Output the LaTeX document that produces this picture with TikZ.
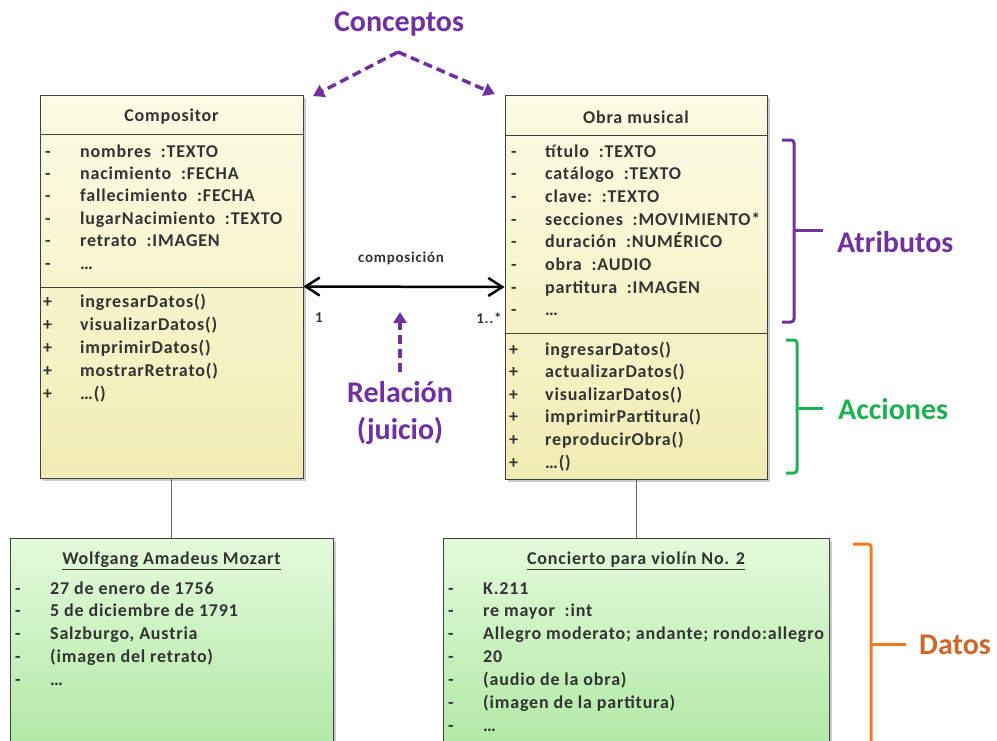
\documentclass[tikz,border=0pt]{standalone}
\usepackage{fontspec}
\setmainfont{Carlito}
\usetikzlibrary{arrows.meta,shadows}
\definecolor{txt}{HTML}{333333}
\definecolor{purp}{HTML}{7030A0}
\definecolor{grn}{HTML}{1FAF55}
\definecolor{orng}{HTML}{F27A22}
\definecolor{orngt}{HTML}{CF6728}
\definecolor{ytop}{HTML}{FDFCE6}
\definecolor{ybot}{HTML}{F1ECB4}
\definecolor{gtop}{HTML}{E4FADC}
\definecolor{gbot}{HTML}{ABE79F}
\newcommand{\itemfont}{\fontsize{18}{20}\selectfont\bfseries\addfontfeatures{LetterSpace=4.5}}
\tikzset{
  umlbox/.style={draw=black!75, line width=0.8pt, rectangle, inner sep=0pt,
    drop shadow={shadow xshift=3pt, shadow yshift=-3pt, fill=black!35, opacity=0.6}},
  classbox/.style={umlbox, top color=ytop, bottom color=ybot},
  objbox/.style={umlbox, top color=gtop, bottom color=gbot},
  item/.style={anchor=base west, inner sep=0pt, text=txt, font=\itemfont},
  ttl/.style={inner sep=0pt, text=txt, font=\itemfont},
  small/.style={inner sep=0pt, text=txt, font=\fontsize{15}{17}\selectfont\bfseries\addfontfeatures{LetterSpace=5}},
  big/.style={inner sep=0pt, font=\fontsize{30}{37}\selectfont\bfseries, align=center},
  sep/.style={draw=black!75, line width=0.8pt},
  conn/.style={draw=black!60, line width=0.8pt},
  dasharrow/.style={draw=purp, line width=3.5pt, dash pattern=on 9pt off 5pt,
    -{Triangle[length=11pt,width=13pt]}},
  bracket/.style={line width=3pt, rounded corners=3pt},
}
\begin{document}
\begin{tikzpicture}[x=1pt,y=-1pt]
\useasboundingbox (0,0) rectangle (997,740);
% class boxes
\node[classbox, minimum width=263pt, minimum height=383pt] (comp) at (171.5,286.5) {};
\node[classbox, minimum width=262pt, minimum height=384pt] (obra) at (636,287) {};
\draw[sep] (40,134) -- (303,134);
\draw[sep] (40,287) -- (303,287);
\draw[sep] (505,135) -- (767,135);
\draw[sep] (505,333) -- (767,333);
\node[ttl] (compt) at (171.5,117) {Compositor};
\node[ttl] (obrat) at (636,117) {Obra musical};
% Compositor attributes
\foreach \t [count=\i] in {nombres\ \ :TEXTO, nacimiento\ \ :FECHA, fallecimiento\ \ :FECHA, lugarNacimiento\ \ :TEXTO, retrato\ \ :IMAGEN, \dots}{
  \node[item] (cam\i) at (45,{157+22.4*(\i-1)}) {-};
  \node[item] (ca\i) at (80,{157+22.4*(\i-1)}) {\t};
}
\foreach \t [count=\i] in {ingresarDatos(), visualizarDatos(), imprimirDatos(), mostrarRetrato(), \dots()}{
  \node[item] (cop\i) at (43,{307+23*(\i-1)}) {+};
  \node[item] (co\i) at (80,{307+23*(\i-1)}) {\t};
}
% Obra attributes
\foreach \t [count=\i] in {título\ \ :TEXTO, catálogo\ \ :TEXTO, clave:\ \ :TEXTO, secciones\ \ :MOVIMIENTO*, duración\ \ :NUMÉRICO, obra\ \ :AUDIO, partitura\ \ :IMAGEN, \dots}{
  \node[item] (oam\i) at (511,{157+22.7*(\i-1)}) {-};
  \node[item] (oa\i) at (545,{157+22.7*(\i-1)}) {\t};
}
\foreach \t [count=\i] in {ingresarDatos(), actualizarDatos(), visualizarDatos(), imprimirPartitura(), reproducirObra(), \dots()}{
  \node[item] (oop\i) at (509,{355+22.6*(\i-1)}) {+};
  \node[item] (oo\i) at (545,{355+22.6*(\i-1)}) {\t};
}
% association
\draw[line width=2.5pt, {Straight Barb[length=14pt,width=18pt]}-{Straight Barb[length=14pt,width=18pt]}] (comp.east) -- (obra.west);
\node[small] (compo) at (401,258) {composición};
\node[small] (m1) at (319,318) {1};
\node[small] (m2) at (489,318) {1..*};
% object boxes
\node[objbox, minimum width=323pt, minimum height=230pt] (moz) at (171.5,653) {};
\node[objbox, minimum width=386pt, minimum height=230pt] (conc) at (636,653) {};
\draw[conn] (comp.south) -- (moz.north);
\draw[conn] (obra.south) -- (conc.north);
\node[ttl] (mozt) at (171.5,561) {\underline{Wolfgang Amadeus Mozart}};
\node[ttl] (conct) at (636,561) {\underline{Concierto para violín No. 2}};
\foreach \t [count=\i] in {27 de enero de 1756, 5 de diciembre de 1791, {Salzburgo, Austria}, (imagen del retrato), \dots}{
  \node[item] (mm\i) at (15,{594+22.8*(\i-1)}) {-};
  \node[item] (md\i) at (50,{594+22.8*(\i-1)}) {\t};
}
\foreach \t [count=\i] in {K.211, re mayor\ \ :int, {Allegro moderato; andante; rondo:allegro}, 20, (audio de la obra), (imagen de la partitura), \dots}{
  \node[item] (cm\i) at (448,{594+22.9*(\i-1)}) {-};
  \node[item] (cd\i) at (483,{594+22.9*(\i-1)}) {\t};
}
% Conceptos
\node[big, text=purp] (conceptos) at (399,24) {Conceptos};
\coordinate (apex) at (398,52);
\coordinate (tipL) at (313,96);
\coordinate (tipR) at (495,94);
\draw[dasharrow] (apex) -- (tipL);
\draw[dasharrow] (apex) -- (tipR);
% Relacion
\node[big, text=purp] (rel) at (400,413) {Relación\\(juicio)};
\coordinate (relS) at (400,372);
\coordinate (relT) at (400,312);
\draw[dasharrow] (relS) -- (relT);
% brackets
\draw[bracket, purp] (782,140) -- (794,140) -- (794,322) -- (782,322);
\coordinate (atrB) at (794,230);
\node[big, text=purp, anchor=west] (atr) at (837,242) {Atributos};
\draw[purp, line width=3pt] (atrB) -- (823,230);
\draw[bracket, grn] (786,340) -- (797,340) -- (797,473) -- (786,473);
\coordinate (accB) at (797,408);
\node[big, text=grn, anchor=west] (acc) at (838,409) {Acciones};
\draw[grn, line width=3pt] (accB) -- (823,408);
\draw[bracket, orng] (853,544) -- (871,544) -- (871,760);
\coordinate (datB) at (871,644);
\node[big, text=orngt, anchor=west] (dat) at (919,645) {Datos};
\draw[orng, line width=3pt] (datB) -- (906,644);
\end{tikzpicture}
\end{document}
